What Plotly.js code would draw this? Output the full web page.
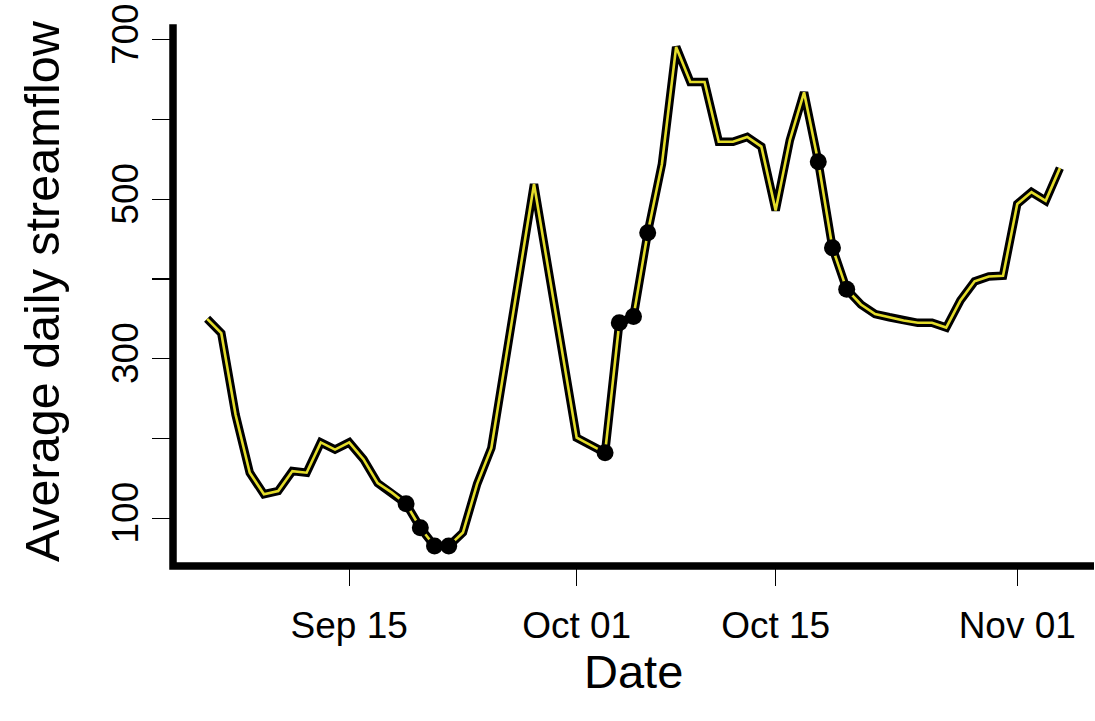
<!DOCTYPE html>
<html>
<head>
<meta charset="utf-8">
<script src="https://cdn.plot.ly/plotly-3.0.1.min.js"></script>
<style>
  html, body { margin: 0; padding: 0; background: #ffffff; }
  #chart { width: 1095px; height: 721px; }
</style>
</head>
<body>
<div id="chart"></div>
<script>
// ---- Data ----
const dates = [
  '2018-09-05','2018-09-06','2018-09-07','2018-09-08','2018-09-09','2018-09-10',
  '2018-09-11','2018-09-12','2018-09-13','2018-09-14','2018-09-15','2018-09-16',
  '2018-09-17','2018-09-18','2018-09-19','2018-09-20','2018-09-21','2018-09-22',
  '2018-09-23','2018-09-24','2018-09-25','2018-09-28','2018-10-01','2018-10-03',
  '2018-10-04','2018-10-05','2018-10-06','2018-10-07','2018-10-08','2018-10-09',
  '2018-10-10','2018-10-11','2018-10-12','2018-10-13','2018-10-14','2018-10-15',
  '2018-10-16','2018-10-17','2018-10-18','2018-10-19','2018-10-20','2018-10-21',
  '2018-10-22','2018-10-23','2018-10-24','2018-10-25','2018-10-26','2018-10-27',
  '2018-10-28','2018-10-29','2018-10-30','2018-10-31','2018-11-01','2018-11-02',
  '2018-11-03','2018-11-04'
];
const streamflow = [
  350, 332, 230, 157, 130, 134,
  159, 157, 195, 186, 195, 174,
  144, 132, 118, 88, 65, 65,
  82, 143, 188, 519, 201, 182,
  345, 353, 458, 544, 691, 647,
  647, 572, 572, 578, 566, 486,
  574, 634, 547, 439, 387, 368,
  356, 352, 348, 345, 345, 339,
  373, 397, 403, 404, 494, 509,
  498, 539
];
// Days marked with a black point
const highlightDates = [
  '2018-09-19','2018-09-20','2018-09-21','2018-09-22',
  '2018-10-03','2018-10-04','2018-10-05','2018-10-06',
  '2018-10-18','2018-10-19','2018-10-20'
];
const xTickVals = ['2018-09-15','2018-10-01','2018-10-15','2018-11-01'];
const xTickText = ['Sep 15','Oct 01','Oct 15','Nov 01'];
const yTickVals = [100, 200, 300, 400, 500, 600, 700];
const yTickText = ['100', '', '300', '', '500', '', '700'];
const xTitle = 'Date';
const yTitle = 'Average daily streamflow';

// ---- Build traces ----
const hlX = [], hlY = [];
dates.forEach((d, i) => {
  if (highlightDates.includes(d)) { hlX.push(d); hlY.push(streamflow[i]); }
});

const FONT = 'Liberation Sans, Arial, Helvetica, sans-serif';

const traces = [
  { x: dates, y: streamflow, type: 'scatter', mode: 'lines',
    line: { color: '#000000', width: 8.5 }, hoverinfo: 'skip', showlegend: false },
  { x: dates, y: streamflow, type: 'scatter', mode: 'lines',
    line: { color: '#e3dc2a', width: 2.6 }, showlegend: false },
  { x: hlX, y: hlY, type: 'scatter', mode: 'markers',
    marker: { color: '#000000', size: 17, line: { width: 0 } }, showlegend: false }
];

const layout = {
  width: 1095, height: 721,
  margin: { l: 173, r: 1, t: 27, b: 155 },
  paper_bgcolor: '#ffffff', plot_bgcolor: '#ffffff',
  showlegend: false,
  font: { family: FONT, color: '#000000' },
  xaxis: {
    type: 'date',
    range: ['2018-09-02 14:24', '2018-11-06 09:36'],
    tickvals: xTickVals, ticktext: xTickText,
    ticks: 'outside', ticklen: 19, tickwidth: 1.3, tickcolor: '#000000',
    showline: false, showgrid: false, zeroline: false,
    tickfont: { family: FONT, size: 37, color: '#000000' },
    ticklabelstandoff: 8
  },
  yaxis: {
    range: [40, 716],
    tickvals: yTickVals, ticktext: yTickText,
    ticks: 'outside', ticklen: 20, tickwidth: 1.3, tickcolor: '#000000',
    tickangle: -90,
    showline: false, showgrid: false, zeroline: false,
    tickfont: { family: FONT, size: 37, color: '#000000' },
    ticklabelstandoff: -1
  },
  shapes: [
    { type: 'path', xref: 'paper', yref: 'paper',
      path: 'M 0 1.005 L 0 0 L 1 0',
      line: { color: '#000000', width: 7.5 }, layer: 'above' }
  ],
  annotations: [
    { text: xTitle, xref: 'paper', yref: 'paper', x: 0.5, y: 0,
      xanchor: 'center', yanchor: 'middle', yshift: -105, showarrow: false,
      font: { family: FONT, size: 47, color: '#000000' } },
    { text: yTitle, xref: 'paper', yref: 'paper', x: 0, y: 0.51,
      xanchor: 'center', yanchor: 'middle', xshift: -131, textangle: -90, showarrow: false,
      font: { family: FONT, size: 48.5, color: '#000000' } }
  ]
};

Plotly.newPlot('chart', traces, layout, { displayModeBar: false, staticPlot: true });
</script>
</body>
</html>
